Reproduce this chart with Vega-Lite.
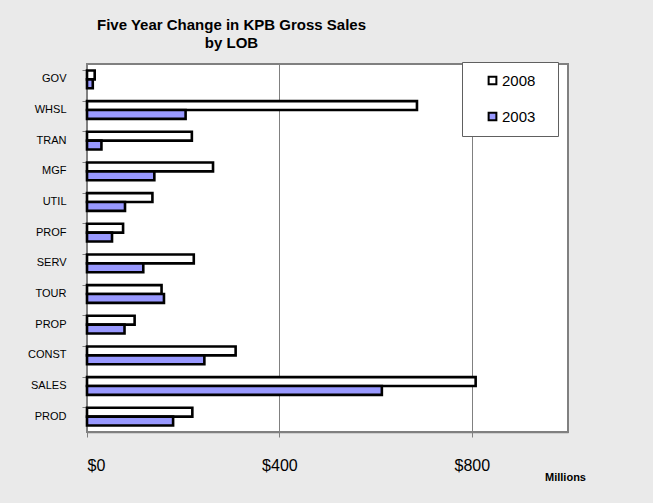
{
  "$schema": "https://vega.github.io/schema/vega-lite/v6.json",
  "autosize": {"type": "none"},
  "width": 481,
  "height": 368,
  "padding": {"left": 87, "top": 64, "right": 85, "bottom": 71},
  "background": "#eaeaea",
  "config": {
    "font": "Liberation Sans",
    "view": {"fill": "white", "stroke": "#808080", "strokeWidth": 2}
  },
  "title": {
    "text": ["Five Year Change in KPB Gross Sales", "by LOB"],
    "fontSize": 15,
    "fontWeight": "bold",
    "color": "black",
    "anchor": "middle",
    "dx": -96,
    "offset": 11,
    "lineHeight": 18
  },
  "data": {
    "values": [
      {"lob": "GOV", "year": "2008", "value": 16},
      {"lob": "GOV", "year": "2003", "value": 12},
      {"lob": "WHSL", "year": "2008", "value": 686},
      {"lob": "WHSL", "year": "2003", "value": 205},
      {"lob": "TRAN", "year": "2008", "value": 218},
      {"lob": "TRAN", "year": "2003", "value": 30},
      {"lob": "MGF", "year": "2008", "value": 262},
      {"lob": "MGF", "year": "2003", "value": 140},
      {"lob": "UTIL", "year": "2008", "value": 136},
      {"lob": "UTIL", "year": "2003", "value": 79},
      {"lob": "PROF", "year": "2008", "value": 75},
      {"lob": "PROF", "year": "2003", "value": 52},
      {"lob": "SERV", "year": "2008", "value": 222},
      {"lob": "SERV", "year": "2003", "value": 117},
      {"lob": "TOUR", "year": "2008", "value": 155},
      {"lob": "TOUR", "year": "2003", "value": 160},
      {"lob": "PROP", "year": "2008", "value": 99},
      {"lob": "PROP", "year": "2003", "value": 78},
      {"lob": "CONST", "year": "2008", "value": 309},
      {"lob": "CONST", "year": "2003", "value": 244},
      {"lob": "SALES", "year": "2008", "value": 808},
      {"lob": "SALES", "year": "2003", "value": 613},
      {"lob": "PROD", "year": "2008", "value": 219},
      {"lob": "PROD", "year": "2003", "value": 179}
    ]
  },
  "mark": {"type": "bar", "stroke": "black", "strokeWidth": 2.6},
  "encoding": {
    "y": {
      "field": "lob",
      "type": "nominal",
      "sort": ["GOV", "WHSL", "TRAN", "MGF", "UTIL", "PROF", "SERV", "TOUR", "PROP", "CONST", "SALES", "PROD"],
      "scale": {"paddingInner": 0.42, "paddingOuter": 0.21},
      "axis": {
        "title": null,
        "bandPosition": 0,
        "labelFontSize": 11,
        "labelColor": "black",
        "labelPadding": 16,
        "tickSize": 5,
        "tickColor": "#808080",
        "domainColor": "#808080",
        "grid": false
      }
    },
    "yOffset": {
      "field": "year",
      "type": "nominal",
      "sort": ["2008", "2003"],
      "scale": {"paddingInner": 0, "paddingOuter": 0}
    },
    "x": {
      "field": "value",
      "type": "quantitative",
      "scale": {"domain": [0, 1000], "nice": false},
      "axis": {
        "values": [0, 400, 800],
        "format": "$,.0f",
        "labelFontSize": 16,
        "labelColor": "black",
        "labelPadding": 20,
        "tickSize": 5,
        "tickColor": "#808080",
        "domainColor": "#808080",
        "domainWidth": 1.5,
        "grid": true,
        "gridColor": "#808080",
        "gridWidth": 1,
        "title": "Millions",
        "titleFontSize": 11,
        "titleFontWeight": "bold",
        "titleColor": "black",
        "titleX": 478,
        "titleY": 39,
        "titleAlign": "center"
      }
    },
    "fill": {
      "field": "year",
      "type": "nominal",
      "sort": ["2008", "2003"],
      "scale": {"domain": ["2008", "2003"], "range": ["white", "#9999ff"]},
      "legend": {
        "title": null,
        "orient": "none",
        "legendX": 375,
        "legendY": -2,
        "symbolType": "square",
        "symbolSize": 60,
        "symbolStrokeColor": "black",
        "symbolStrokeWidth": 2,
        "labelFontSize": 15,
        "labelColor": "black",
        "labelOffset": 2,
        "rowPadding": 19,
        "padding": 11,
        "fillColor": "white",
        "strokeColor": "#606060",
        "symbolOffset": 12,
        "labelLimit": 200,
        "labelExpr": "datum.label + '\u2800'"
      }
    }
  }
}
